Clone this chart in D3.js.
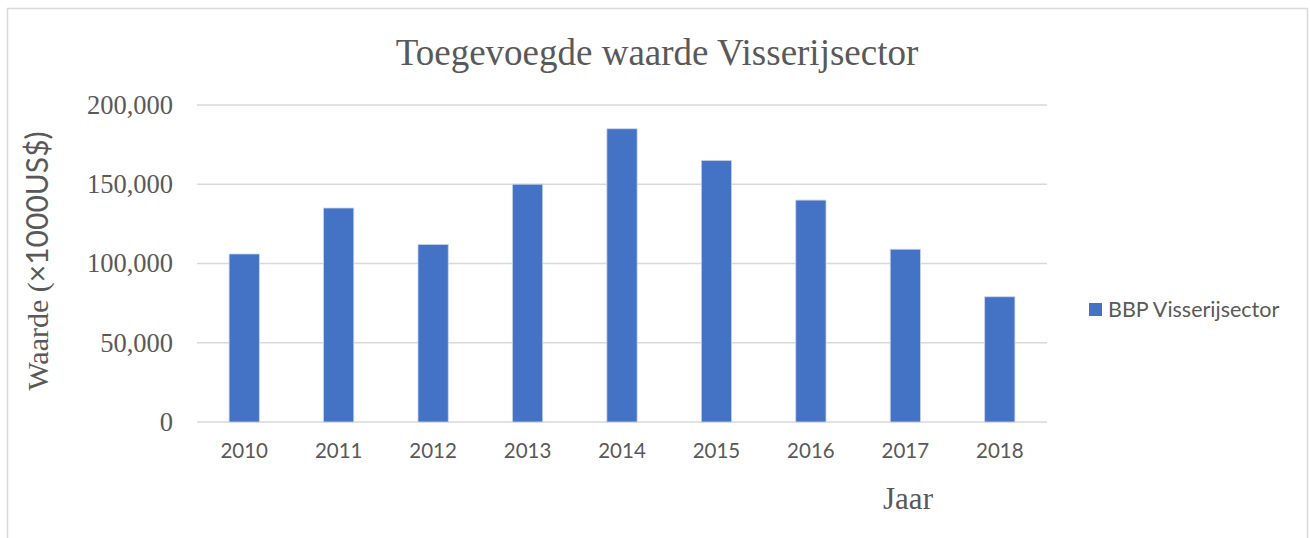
<!DOCTYPE html>
<html>
<head>
<meta charset="utf-8">
<script src="https://cdn.jsdelivr.net/npm/d3@7"></script>
<style>
	body { margin: 0; background: #fff; }
	text { fill: #595959; }
</style>
</head>
<body>
<div id="chart"></div>
<script>
// Data
var years = ["2010", "2011", "2012", "2013", "2014", "2015", "2016", "2017", "2018"];
var bbpValues = [106000, 135000, 112000, 150000, 185000, 165000, 140000, 109000, 79000];
var yTicks = [0, 50000, 100000, 150000, 200000];
var seriesName = "BBP Visserijsector";

var W = 1310, H = 538;
var margin = {top: 105, right: 263, bottom: 116, left: 197};
var width = W - margin.left - margin.right,
	height = H - margin.top - margin.bottom;

var svg = d3.select("#chart").append("svg")
	.attr("width", W)
	.attr("height", H);

//outer frame
svg.append("rect")
	.attr("x", 7.5).attr("y", 8.5)
	.attr("width", 1300).attr("height", 560)
	.attr("fill", "none")
	.attr("stroke", "#d9d9d9")
	.attr("stroke-width", 1.5);

var grp = svg.append("g")
	.attr("transform", "translate(" + margin.left + "," + margin.top + ")");

var x = d3.scaleBand().domain(years).range([0, width]).paddingInner(0.68).paddingOuter(0.34);
var y = d3.scaleLinear().domain([0, 200000]).range([height, 0]);

//gridlines
grp.selectAll("line.grid")
	.data(yTicks)
	.enter().append("line")
	.attr("class", "grid")
	.attr("x1", 0).attr("x2", width)
	.attr("y1", function(d){ return y(d); })
	.attr("y2", function(d){ return y(d); })
	.attr("stroke", "#d9d9d9")
	.attr("stroke-width", 1.5);

//y axis labels
var yAxis = d3.axisLeft(y).tickValues(yTicks).tickSize(0).tickPadding(24)
	.tickFormat(d3.format(","));
var yg = grp.append("g").call(yAxis);
yg.select(".domain").remove();
yg.selectAll("text")
	.attr("fill", "#595959")
	.style("font-family", "'Liberation Serif', 'DejaVu Serif', serif")
	.style("font-size", "26.5px");

//x axis labels
var xAxis = d3.axisBottom(x).tickSize(0).tickPadding(21);
var xg = grp.append("g").attr("transform", "translate(0," + height + ")").call(xAxis);
xg.select(".domain").remove();
xg.selectAll("text")
	.attr("fill", "#595959")
	.style("font-family", "Lato, 'Open Sans', sans-serif")
	.style("font-size", "20.5px");

//bars
grp.selectAll("rect.bar")
	.data(bbpValues)
	.enter().append("rect")
	.attr("class", "bar")
	.attr("x", function(d, i){ return x(years[i]); })
	.attr("y", function(d){ return y(d); })
	.attr("width", x.bandwidth())
	.attr("height", function(d){ return height - y(d); })
	.attr("fill", "#4472c4")
	.attr("stroke", "#c5d3ee")
	.attr("stroke-width", 0.8);

//title
svg.append("text")
	.attr("x", 657).attr("y", 65)
	.attr("text-anchor", "middle")
	.style("font-family", "'Liberation Serif', serif")
	.style("font-size", "37px")
	.text("Toegevoegde waarde Visserijsector");

//y axis title (serif + sans mix)
var yt = svg.append("text")
	.attr("transform", "translate(48,261) rotate(-90)")
	.attr("text-anchor", "middle")
	.style("font-size", "30px");
yt.append("tspan").style("font-family", "'Liberation Serif', serif").text("Waarde (");
yt.append("tspan").style("font-family", "Lato, 'Open Sans', sans-serif").text("×1000US$)");

//x axis title
svg.append("text")
	.attr("x", 908).attr("y", 509)
	.attr("text-anchor", "middle")
	.style("font-family", "'Liberation Serif', serif")
	.style("font-size", "31px")
	.text("Jaar");

//legend
var legend = svg.append("g").attr("transform", "translate(1089,303)");
legend.append("rect")
	.attr("width", 13).attr("height", 13)
	.attr("fill", "#4472c4");
legend.append("text")
	.attr("x", 19).attr("y", 14)
	.style("font-family", "Lato, 'Open Sans', sans-serif")
	.style("font-size", "21.5px")
	.text(seriesName);
</script>
</body>
</html>
